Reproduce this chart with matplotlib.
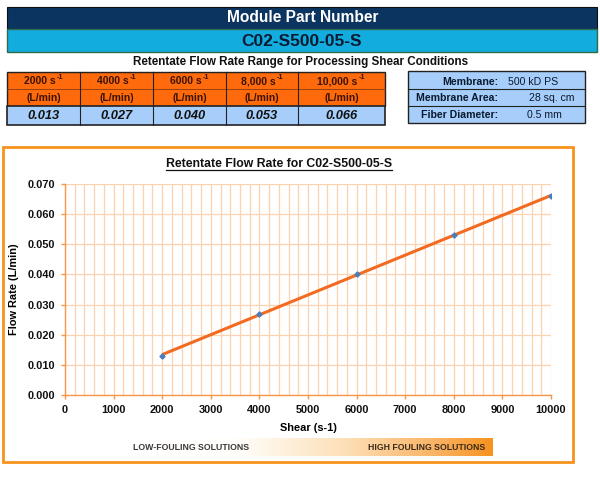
import numpy as np
import matplotlib
matplotlib.use("Agg")
import matplotlib.pyplot as plt
from matplotlib.patches import Rectangle
from matplotlib.lines import Line2D
from matplotlib.colors import LinearSegmentedColormap

# ---------------- data ----------------
shear = [2000, 4000, 6000, 8000, 10000]
flow = [0.013, 0.027, 0.040, 0.053, 0.066]
header_labels = ["2000 s", "4000 s", "6000 s", "8,000 s", "10,000 s"]
value_labels = ["0.013", "0.027", "0.040", "0.053", "0.066"]
spec_labels = ["Membrane:", "Membrane Area:", "Fiber Diameter:"]
spec_values = ["500 kD PS", "28 sq. cm", "0.5 mm"]
x_ticks = [0, 1000, 2000, 3000, 4000, 5000, 6000, 7000, 8000, 9000, 10000]
y_ticks = [0.0, 0.01, 0.02, 0.03, 0.04, 0.05, 0.06, 0.07]

plt.rcParams['font.family'] = ['Liberation Sans', 'DejaVu Sans']

W, H = 600, 487
fig = plt.figure(figsize=(W / 100, H / 100), dpi=100)
fig.patch.set_facecolor('white')


def fx(x):
    return x / W


def fy(y):
    return 1 - y / H


def rect(x0, y0, x1, y1, fc, ec='none', lw=0.0, z=1):
    r = Rectangle((fx(x0), fy(y1)), fx(x1) - fx(x0), fy(y0) - fy(y1),
                  transform=fig.transFigure, facecolor=fc, edgecolor=ec,
                  linewidth=lw, zorder=z)
    fig.add_artist(r)
    return r


def text(x, y, s, **kw):
    kw.setdefault('ha', 'center')
    kw.setdefault('va', 'center')
    return fig.text(fx(x), fy(y), s, **kw)


# ---------------- top banners ----------------
NAVY = '#0B3460'
CYAN = '#12ACDF'
rect(7, 7, 597, 29, NAVY, ec='#101010', lw=0.8)
rect(7, 29, 597, 52, CYAN, ec='#2E6B4E', lw=1.0)
text(303, 18, "Module Part Number", color='white', fontsize=11.2, fontweight='bold')
text(302, 41, "C02-S500-05-S", color='#0A1A30', fontsize=12.5, fontweight='bold')
text(301, 62, "Retentate Flow Rate Range for Processing Shear Conditions",
     color='#111111', fontsize=8.4, fontweight='bold')

# ---------------- shear table ----------------
ORANGE = '#FF6A0D'
LBLUE = '#A7CEFA'
edges = [7, 80, 153, 226, 298, 385]
rect(7, 72, 385, 106, ORANGE, ec='#222222', lw=1.0)
rect(7, 106, 385, 125, LBLUE, ec='#222222', lw=1.2)
fig.add_artist(Line2D([fx(7), fx(385)], [fy(89), fy(89)], transform=fig.transFigure,
                      color='#8A3A10', lw=0.6))
for e in edges[1:-1]:
    fig.add_artist(Line2D([fx(e), fx(e)], [fy(72), fy(125)], transform=fig.transFigure,
                          color='#222222', lw=0.8))
for i, (h, v) in enumerate(zip(header_labels, value_labels)):
    cx = (edges[i] + edges[i + 1]) / 2
    text(cx - 4, 81, h, color='#3A1200', fontsize=7.5, fontweight='bold')
    text(cx, 98, "(L/min)", color='#3A1200', fontsize=7.5, fontweight='bold')
    text(cx, 116, v, color='#111111', fontsize=9.3, fontweight='bold', style='italic')

fig.canvas.draw()
rend = fig.canvas.get_renderer()
for i, h in enumerate(header_labels):
    cx = (edges[i] + edges[i + 1]) / 2
    tmp = fig.text(0, 0, h, fontsize=7.5, fontweight='bold')
    wpx = tmp.get_window_extent(rend).width
    tmp.remove()
    text(cx - 4 + wpx / 2 + 1, 77.5, "-1", color='#3A1200', fontsize=5.2,
         fontweight='bold', ha='left')

# ---------------- spec table ----------------
rect(408, 71, 585, 123, LBLUE, ec='#222222', lw=1.0)
for yy in (89, 106):
    fig.add_artist(Line2D([fx(408), fx(585)], [fy(yy), fy(yy)], transform=fig.transFigure,
                          color='#222222', lw=0.8))
val_x = [508, 529, 527]
for k, (lab, val) in enumerate(zip(spec_labels, spec_values)):
    yc = 81.5 + 16.7 * k
    text(498, yc, lab, ha='right', color='#0A1A30', fontsize=7.6, fontweight='bold')
    text(val_x[k], yc, val, ha='left', color='#0A1A30', fontsize=7.6)

# ---------------- chart box ----------------
BOX = '#F7941D'
rect(3, 147, 573, 462, 'none', ec=BOX, lw=2.0, z=0.5)

# gradient bar
gax = fig.add_axes([fx(128), fy(456), fx(493) - fx(128), fy(438) - fy(456)])
cmap = LinearSegmentedColormap.from_list(
    'fade', [(0, '#FFFFFF'), (0.3, '#FFFEFB'), (0.6, '#FDDFB6'), (0.85, '#F9B262'), (1.0, '#F7931E')])
gax.imshow(np.linspace(0, 1, 256)[None, :], aspect='auto', cmap=cmap, extent=[0, 1, 0, 1])
gax.set_axis_off()
text(191, 447, "LOW-FOULING SOLUTIONS", color='#3A3A3A', fontsize=6.3, fontweight='bold')
text(427, 447, "HIGH FOULING SOLUTIONS", color='#3A2A1A', fontsize=6.3, fontweight='bold')

# ---------------- main axes ----------------
ax = fig.add_axes([fx(65), fy(395), fx(551) - fx(65), fy(184) - fy(395)])
ax.set_xlim(0, 10000)
ax.set_ylim(0, 0.07)
ax.set_xticks(x_ticks)
ax.set_yticks(y_ticks)
ax.set_xticks(np.arange(0, 10001, 200), minor=True)
ax.set_xticklabels([str(v) for v in x_ticks], fontsize=7.9, fontweight='bold')
ax.set_yticklabels([f"{v:.3f}" for v in y_ticks], fontsize=7.9, fontweight='bold')
GRID = '#FCD3AE'
ax.grid(True, which='major', axis='both', color=GRID, lw=0.9)
ax.grid(True, which='minor', axis='x', color=GRID, lw=0.9)
ax.set_axisbelow(True)
for s in ('top', 'right'):
    ax.spines[s].set_visible(False)
for s in ('left', 'bottom'):
    ax.spines[s].set_color('#F79646')
    ax.spines[s].set_linewidth(1.0)
ax.tick_params(which='major', color='#F79646', length=3, width=1.0, pad=4, labelcolor='#111111')
ax.tick_params(which='minor', length=0)

coef = np.polyfit(shear, flow, 1)
xs = np.array([min(shear), max(shear)])
ax.plot(shear, flow, linestyle='none', marker='D', markersize=2.6, color='#4A7EBB', zorder=3)
ax.plot(xs, np.polyval(coef, xs), color='#F26B21', lw=2.2, zorder=2.5, solid_capstyle='butt')

ax.set_xlabel("Shear (s-1)", fontsize=7.9, fontweight='bold', labelpad=6)
ax.set_ylabel("Flow Rate (L/min)", fontsize=7.9, fontweight='bold', labelpad=6)

# title with underline
tt = text(279, 164, "Retentate Flow Rate for C02-S500-05-S", fontsize=8.8, fontweight='bold',
          color='#111111')
fig.canvas.draw()
bb = tt.get_window_extent(fig.canvas.get_renderer())
fig.add_artist(Line2D([bb.x0 / W, bb.x1 / W], [(bb.y0 + 0.5) / H, (bb.y0 + 0.5) / H],
                      transform=fig.transFigure, color='#111111', lw=0.9))

fig.savefig("out.png", dpi=100, facecolor='white')
